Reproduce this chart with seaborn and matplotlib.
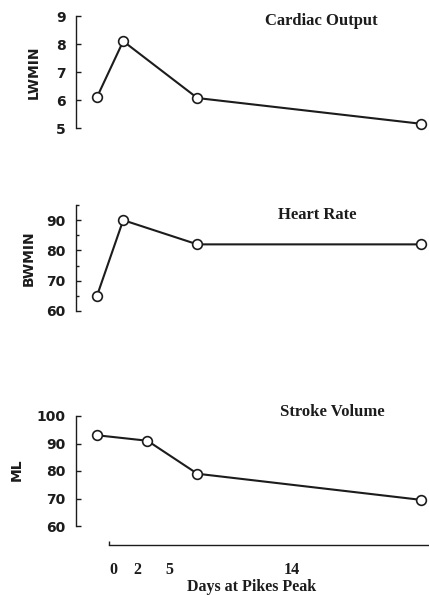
import matplotlib
matplotlib.use("Agg")
import matplotlib.pyplot as plt
import seaborn as sns
import pandas as pd

# Measurement days (sea-level control plotted left of day 0)
co_days = [-1.25, 0.8, 6.6, 24.1]
cardiac_output = [6.1, 8.1, 6.07, 5.15]

hr_days = [-1.25, 0.8, 6.6, 24.1]
heart_rate = [65, 90, 82, 82]

sv_days = [-1.25, 2.7, 6.6, 24.1]
stroke_volume = [93, 91, 79, 69.5]

day_ticks = [0, 1.9, 4.4, 14]
day_labels = ["0", "2", "5", "14"]

sns.set_style("ticks")
plt.rcParams["font.family"] = ["DejaVu Sans"]

W, H = 429, 595
fig = plt.figure(figsize=(W / 100, H / 100), dpi=100)

INK = "#1c1c1c"
XMIN, XMAX = -2.89, 24.71


def px_axes(left, top, right, bottom):
    return fig.add_axes([left / W, 1 - bottom / H, (right - left) / W, (bottom - top) / H])


def draw_series(ax, x, y):
    df = pd.DataFrame({"day": x, "value": y})
    sns.lineplot(data=df, x="day", y="value", ax=ax, color=INK, linewidth=1.5,
                 marker="o", markersize=7, markerfacecolor="white",
                 markeredgecolor=INK, markeredgewidth=1.2, clip_on=False)


def style_y(ax):
    ax.set_xlim(XMIN, XMAX)
    ax.spines["left"].set_linewidth(1.0)
    ax.spines["left"].set_color(INK)
    ax.tick_params(axis="y", direction="in", length=3.5, width=1.0, color=INK,
                   pad=7.5, labelsize=10)
    for lab in ax.get_yticklabels():
        lab.set_fontweight("bold")
        lab.set_color(INK)
    ax.set_xlabel("")
    ax.set_ylabel("")


# Cardiac output
ax1 = px_axes(76, 16, 429, 128)
draw_series(ax1, co_days, cardiac_output)
ax1.set_ylim(5, 9)
ax1.set_yticks([5, 6, 7, 8, 9])
sns.despine(ax=ax1, bottom=True)
ax1.set_xticks([])
style_y(ax1)

# Heart rate
ax2 = px_axes(76, 205, 429, 311)
draw_series(ax2, hr_days, heart_rate)
ax2.set_ylim(60, 95)
ax2.set_yticks([60, 70, 80, 90])
ax2.set_yticks([65, 75, 85, 95], minor=True)
ax2.tick_params(axis="y", which="minor", direction="in", length=2.5, width=1.0, color=INK)
sns.despine(ax=ax2, bottom=True)
ax2.set_xticks([])
style_y(ax2)

# Stroke volume
ax3 = px_axes(76, 416, 429, 526)
draw_series(ax3, sv_days, stroke_volume)
ax3.set_ylim(60, 100)
ax3.set_yticks([60, 70, 80, 90, 100])
sns.despine(ax=ax3)
style_y(ax3)
ax3.spines["bottom"].set_position(("outward", 13.7))
ax3.spines["bottom"].set_bounds(-0.31, XMAX)
ax3.spines["bottom"].set_linewidth(1.0)
ax3.spines["bottom"].set_color(INK)
ax3.set_xticks(day_ticks)
ax3.set_xticklabels(day_labels, family="Liberation Serif", fontweight="bold",
                    fontsize=11.5, color=INK)
ax3.tick_params(axis="x", length=0, pad=12)
ax3.set_xticks([-0.31], minor=True)
ax3.tick_params(axis="x", which="minor", direction="in", length=3, width=1.0, color=INK)

# Panel titles
title_kw = dict(family="Liberation Serif", fontweight="bold", fontsize=12,
                color=INK, ha="center", va="center")
fig.text(321 / W, 1 - 21 / H, "Cardiac Output", **title_kw)
fig.text(317 / W, 1 - 215 / H, "Heart Rate", **title_kw)
fig.text(332 / W, 1 - 412 / H, "Stroke Volume", **title_kw)

# Units
unit_kw = dict(fontweight="bold", fontsize=10, color=INK, rotation=90,
               ha="center", va="center")
fig.text(34 / W, 1 - 72 / H, "LWMIN", **unit_kw)
fig.text(29 / W, 1 - 258 / H, "BWMIN", **unit_kw)
fig.text(17 / W, 1 - 470 / H, "ML", **unit_kw)

xlabel_kw = dict(title_kw, fontsize=11.5)
fig.text(252 / W, 1 - 587 / H, "Days at Pikes Peak", **xlabel_kw)

fig.savefig("out.png", dpi=100, facecolor="white")
